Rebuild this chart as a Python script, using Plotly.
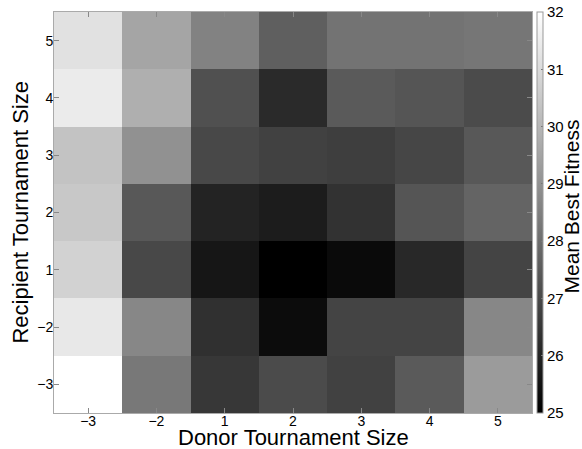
import plotly.graph_objects as go

donor = ["\u22123", "\u22122", "1", "2", "3", "4", "5"]
recipient = ["\u22123", "\u22122", "1", "2", "3", "4", "5"]

# rows: recipient -3, -2, 1, 2, 3, 4, 5 (bottom to top); columns: donor
row_m3 = [32.00, 28.29, 26.51, 27.06, 26.78, 27.47, 29.25]
row_m2 = [31.37, 28.71, 26.32, 25.33, 26.87, 26.87, 28.71]
row_1 = [30.76, 26.98, 25.60, 25.00, 25.27, 26.10, 26.87]
row_2 = [30.49, 27.42, 25.96, 25.77, 26.37, 27.33, 27.75]
row_3 = [30.35, 28.98, 26.98, 26.78, 26.70, 26.92, 27.42]
row_4 = [31.45, 29.80, 27.20, 26.15, 27.47, 27.33, 27.06]
row_5 = [31.18, 29.53, 28.57, 27.61, 28.16, 28.16, 28.24]

z = [row_m3, row_m2, row_1, row_2, row_3, row_4, row_5]
cbar_ticks = [25, 26, 27, 28, 29, 30, 31, 32]

font = "Liberation Sans, Arial, Helvetica, sans-serif"

fig = go.Figure(go.Heatmap(
    x=donor, y=recipient, z=z,
    zmin=25, zmax=32.002,
    colorscale=[[0, "black"], [1, "white"]],
    colorbar=dict(
        x=1.0105, xanchor="left", xpad=0, ypad=0,
        y=0, yanchor="bottom", len=1, lenmode="fraction",
        thickness=6, outlinecolor="#999", outlinewidth=1,
        tickvals=cbar_ticks,
        ticks="inside", ticklen=2, tickcolor="#777",
        tickfont=dict(size=15, family=font, color="black"),
    ),
))

axis_common = dict(
    type="category", showline=True, mirror="ticks", linecolor="#aaa",
    linewidth=1, ticks="inside", ticklen=5, tickcolor="#888",
    showgrid=False, zeroline=False, automargin=False,
    tickfont=dict(size=14, family=font, color="black"),
)

title_font = dict(size=21, family=font, color="black")

fig.update_layout(
    width=582, height=449,
    margin=dict(l=54, r=50, t=12, b=36, autoexpand=False),
    paper_bgcolor="white", plot_bgcolor="white",
    xaxis=dict(axis_common, ticklabelstandoff=-5),
    yaxis=dict(axis_common, ticklabelstandoff=-3),
    annotations=[
        dict(text="Donor Tournament Size", xref="paper", yref="paper",
             x=0.5, y=-0.062, xanchor="center", yanchor="middle",
             showarrow=False, font=dict(title_font, size=22), borderpad=0),
        dict(text="Recipient Tournament Size", xref="paper", yref="paper",
             x=-0.071, y=0.5, xanchor="center", yanchor="middle",
             textangle=-90, showarrow=False, font=dict(title_font, size=22)),
        dict(text="Mean Best Fitness", xref="paper", yref="paper",
             x=1.0825, y=0.516, xanchor="center", yanchor="middle",
             textangle=-90, showarrow=False, font=title_font, borderpad=0),
    ],
)

fig.write_html(
    "out.html",
    config={"displayModeBar": False},
    post_script="document.body.style.margin='0';document.body.style.overflow='hidden';",
)
